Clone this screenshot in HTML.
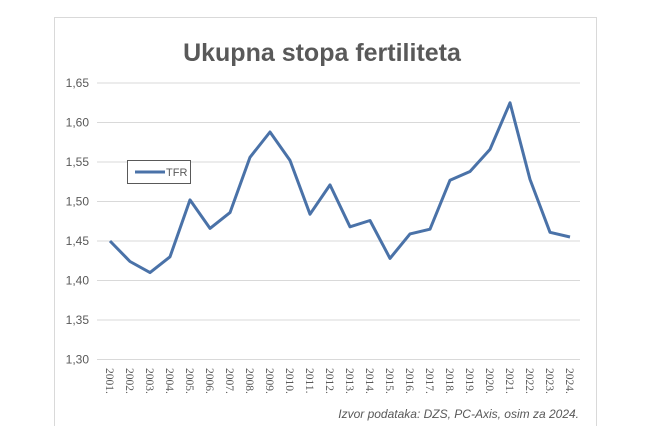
<!DOCTYPE html>
<html><head><meta charset="utf-8"><style>
html,body{margin:0;padding:0;background:#fff;width:656px;height:426px;overflow:hidden}
</style></head><body>
<svg width="656" height="426" xmlns="http://www.w3.org/2000/svg" font-family="Liberation Sans, sans-serif">
<rect x="54.5" y="17.5" width="542" height="420" fill="#fff" stroke="#d9d9d9" stroke-width="1"/>
<text x="322" y="61" text-anchor="middle" font-size="25" font-weight="bold" fill="#595959">Ukupna stopa fertiliteta</text>
<g stroke="#d9d9d9" stroke-width="1">
<line x1="97" x2="580" y1="83" y2="83"/><line x1="97" x2="580" y1="122.5" y2="122.5"/>
<line x1="97" x2="580" y1="162" y2="162"/><line x1="97" x2="580" y1="201.5" y2="201.5"/>
<line x1="97" x2="580" y1="241" y2="241"/><line x1="97" x2="580" y1="280.5" y2="280.5"/>
<line x1="97" x2="580" y1="320" y2="320"/><line x1="97" x2="580" y1="359.5" y2="359.5"/>
</g>
<g font-size="12" fill="#595959" text-anchor="end">
<text x="89" y="87">1,65</text><text x="89" y="126.5">1,60</text><text x="89" y="166">1,55</text>
<text x="89" y="205.5">1,50</text><text x="89" y="245">1,45</text><text x="89" y="284.5">1,40</text>
<text x="89" y="324">1,35</text><text x="89" y="363.5">1,30</text>
</g>
<polyline fill="none" stroke="#4a72a8" stroke-width="3" stroke-linejoin="round" points="110,241 130,261.5 150,272.6 170,256.8 190,199.9 210,228.4 230,212.6 250,157.3 270,132 290,160.4 310,214.2 330,184.9 350,226.8 370,220.5 390,258.4 410,233.9 430,229.2 450,180.2 470,171.5 490,149.4 510,102.8 530,179.4 550,232.3 570,237"/>
<g font-size="11.5" fill="#595959" font-family="Liberation Serif, serif">
<text transform="translate(106,368) rotate(90)">2001.</text><text transform="translate(126,368) rotate(90)">2002.</text>
<text transform="translate(146,368) rotate(90)">2003.</text><text transform="translate(166,368) rotate(90)">2004.</text>
<text transform="translate(186,368) rotate(90)">2005.</text><text transform="translate(206,368) rotate(90)">2006.</text>
<text transform="translate(226,368) rotate(90)">2007.</text><text transform="translate(246,368) rotate(90)">2008.</text>
<text transform="translate(266,368) rotate(90)">2009.</text><text transform="translate(286,368) rotate(90)">2010.</text>
<text transform="translate(306,368) rotate(90)">2011.</text><text transform="translate(326,368) rotate(90)">2012.</text>
<text transform="translate(346,368) rotate(90)">2013.</text><text transform="translate(366,368) rotate(90)">2014.</text>
<text transform="translate(386,368) rotate(90)">2015.</text><text transform="translate(406,368) rotate(90)">2016.</text>
<text transform="translate(426,368) rotate(90)">2017.</text><text transform="translate(446,368) rotate(90)">2018.</text>
<text transform="translate(466,368) rotate(90)">2019.</text><text transform="translate(486,368) rotate(90)">2020.</text>
<text transform="translate(506,368) rotate(90)">2021.</text><text transform="translate(526,368) rotate(90)">2022.</text>
<text transform="translate(546,368) rotate(90)">2023.</text><text transform="translate(566,368) rotate(90)">2024.</text>
</g>
<text x="579" y="418" text-anchor="end" font-size="12" font-style="italic" fill="#595959">Izvor podataka: DZS, PC-Axis, osim za 2024.</text>
<rect x="127.5" y="160.5" width="63" height="23" fill="#fff" stroke="#595959" stroke-width="1"/>
<line x1="135" x2="165" y1="172" y2="172" stroke="#4a72a8" stroke-width="3"/>
<text x="166" y="176" font-size="11" fill="#595959">TFR</text>
</svg>
</body></html>
